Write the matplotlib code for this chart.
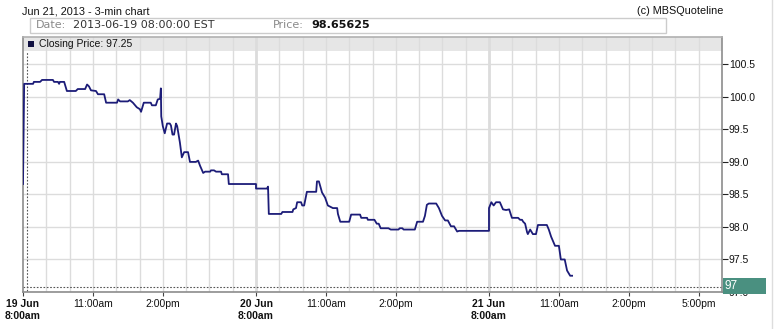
import matplotlib.pyplot as plt
from matplotlib.patches import Rectangle
from matplotlib.lines import Line2D

# 3-min closing prices (date, time, price)
days = ["06-19", "06-20", "06-21"]
stamps = [
    "06-19 08:00", "06-19 08:03", "06-19 08:26", "06-19 08:28", "06-19 08:44", "06-19 08:49",
    "06-19 09:17", "06-19 09:20", "06-19 09:30", "06-19 09:33", "06-19 09:35", "06-19 09:46",
    "06-19 09:53", "06-19 10:16", "06-19 10:21", "06-19 10:40", "06-19 10:45", "06-19 10:50",
    "06-19 10:55", "06-19 11:08", "06-19 11:13", "06-19 11:29", "06-19 11:34", "06-19 12:02",
    "06-19 12:05", "06-19 12:10", "06-19 12:30", "06-19 12:35", "06-19 12:43", "06-19 12:53",
    "06-19 13:01", "06-19 13:04", "06-19 13:11", "06-19 13:29", "06-19 13:32", "06-19 13:42",
    "06-19 13:47", "06-19 13:53", "06-19 13:55", "06-19 13:56", "06-19 14:00", "06-19 14:05",
    "06-19 14:11", "06-19 14:18", "06-19 14:21", "06-19 14:25", "06-19 14:29", "06-19 14:34",
    "06-19 14:37", "06-19 14:44", "06-19 14:49", "06-19 14:55", "06-19 15:05", "06-19 15:10",
    "06-19 15:25", "06-19 15:31", "06-19 15:36", "06-19 15:44", "06-19 15:49", "06-19 16:02",
    "06-19 16:04", "06-19 16:12", "06-19 16:17", "06-19 16:30", "06-19 16:32", "06-19 16:48",
    "06-19 16:50", "06-19 18:00",
    "06-20 08:00", "06-20 08:28", "06-20 08:31", "06-20 08:33", "06-20 09:05", "06-20 09:08",
    "06-20 09:34", "06-20 09:36", "06-20 09:43", "06-20 09:46", "06-20 09:56", "06-20 09:59",
    "06-20 10:04", "06-20 10:11", "06-20 10:35", "06-20 10:37", "06-20 10:42", "06-20 10:50",
    "06-20 10:58", "06-20 11:05", "06-20 11:18", "06-20 11:29", "06-20 11:31", "06-20 11:37",
    "06-20 12:00", "06-20 12:05", "06-20 12:28", "06-20 12:31", "06-20 12:46", "06-20 12:48",
    "06-20 13:05", "06-20 13:11", "06-20 13:16", "06-20 13:21", "06-20 13:41", "06-20 13:47",
    "06-20 14:07", "06-20 14:10", "06-20 14:17", "06-20 14:20", "06-20 14:49", "06-20 14:55",
    "06-20 15:10", "06-20 15:15", "06-20 15:20", "06-20 15:25", "06-20 15:44", "06-20 15:51",
    "06-20 15:59", "06-20 16:07", "06-20 16:14", "06-20 16:22", "06-20 16:30", "06-20 16:38",
    "06-20 16:43", "06-20 16:46", "06-20 18:00",
    "06-21 08:00", "06-21 08:06", "06-21 08:12", "06-21 08:18", "06-21 08:28", "06-21 08:36",
    "06-21 08:44", "06-21 08:52", "06-21 08:59", "06-21 09:15", "06-21 09:20", "06-21 09:25",
    "06-21 09:28", "06-21 09:33", "06-21 09:38", "06-21 09:40", "06-21 09:46", "06-21 09:53",
    "06-21 10:01", "06-21 10:06", "06-21 10:29", "06-21 10:34", "06-21 10:40", "06-21 10:50",
    "06-21 11:00", "06-21 11:05", "06-21 11:15", "06-21 11:21", "06-21 11:29", "06-21 11:34",
]
prices = [
    98.66, 100.20, 100.20, 100.23, 100.23, 100.26,
    100.26, 100.23, 100.23, 100.20, 100.23, 100.23,
    100.09, 100.09, 100.12, 100.12, 100.19, 100.16,
    100.10, 100.09, 100.04, 100.04, 99.91, 99.91,
    99.96, 99.93, 99.93, 99.95, 99.91, 99.84,
    99.81, 99.77, 99.91, 99.91, 99.87, 99.87,
    99.96, 99.97, 100.13, 99.70, 99.55, 99.44,
    99.59, 99.59, 99.56, 99.42, 99.42, 99.59,
    99.55, 99.30, 99.07, 99.15, 99.15, 99.00,
    99.00, 99.02, 98.94, 98.83, 98.85, 98.85,
    98.87, 98.87, 98.85, 98.85, 98.81, 98.81,
    98.66, 98.66,
    98.59, 98.59, 98.62, 98.20, 98.20, 98.23,
    98.23, 98.27, 98.29, 98.38, 98.38, 98.33,
    98.33, 98.54, 98.54, 98.70, 98.70, 98.53,
    98.45, 98.33, 98.29, 98.29, 98.20, 98.08,
    98.08, 98.19, 98.19, 98.14, 98.14, 98.11,
    98.11, 98.05, 98.05, 97.98, 97.98, 97.96,
    97.96, 97.98, 97.98, 97.96, 97.96, 98.08,
    98.08, 98.17, 98.34, 98.36, 98.36, 98.29,
    98.17, 98.10, 98.10, 98.01, 98.01, 97.93,
    97.94, 97.94, 97.94,
    98.29, 98.38, 98.33, 98.38, 98.38, 98.27,
    98.26, 98.27, 98.14, 98.14, 98.11, 98.11,
    98.08, 98.05, 97.92, 97.89, 97.96, 97.89,
    97.89, 98.03, 98.03, 97.96, 97.85, 97.71,
    97.71, 97.50, 97.50, 97.33, 97.25, 97.25,
]

tick_stamps = ["06-19 08:00", "06-19 11:00", "06-19 14:00",
               "06-20 08:00", "06-20 11:00", "06-20 14:00",
               "06-21 08:00", "06-21 11:00", "06-21 14:00", "06-21 17:00"]
tick_labels = ["19 Jun\n8:00am", "11:00am", "2:00pm",
               "20 Jun\n8:00am", "11:00am", "2:00pm",
               "21 Jun\n8:00am", "11:00am", "2:00pm", "5:00pm"]
y_ticks = [97.0, 97.5, 98.0, 98.5, 99.0, 99.5, 100.0, 100.5]

SESSION_HOURS = 10  # 8:00am - 6:00pm, gaps between sessions removed


def session_pos(stamp):
    d, hm = stamp.split()
    hh, mm = hm.split(":")
    return days.index(d) * SESSION_HOURS + int(hh) + int(mm) / 60 - 8


xs = [session_pos(s) for s in stamps]

plt.rcParams['font.family'] = ['Liberation Sans', 'DejaVu Sans']

fig = plt.figure(figsize=(7.74, 3.29), dpi=100)
fig.patch.set_facecolor('white')
ax = fig.add_axes([23 / 774, 37 / 329, 699 / 774, 255 / 329])

ax.set_xlim(0, 3 * SESSION_HOURS)
ax.set_ylim(97.02, 100.92)

# grid: hourly verticals, heavier at session boundaries
for h in range(1, 3 * SESSION_HOURS):
    w = 2.0 if h % SESSION_HOURS == 0 else 1.0
    ax.axvline(h, color='#dcdcdc', lw=w, zorder=1)
for v in y_ticks:
    ax.axhline(v, color='#dcdcdc', lw=1.0, zorder=1)

# header band with legend
ax.add_patch(Rectangle((0, 1 - 14 / 255), 1, 14 / 255, transform=ax.transAxes,
                       facecolor='#e6e6e6', edgecolor='none', zorder=0))
ax.add_patch(Rectangle((5 / 699, 1 - 10 / 255), 6 / 699, 6 / 255, transform=ax.transAxes,
                       facecolor='#101040', edgecolor='none', zorder=5))
ax.text(16 / 699, 1 - 7 / 255, "Closing Price: 97.25", transform=ax.transAxes,
        fontsize=7.5, va='center', ha='left', color='#111111', zorder=5)

# crosshair at first bar
ax.plot([0.17, 0.17], [97.02, 100.71], ls=(0, (1.5, 1.5)), color='#555555', lw=0.8, zorder=2)
ax.axhline(97.08, ls=(0, (1.5, 1.5)), color='#555555', lw=0.8, zorder=2)

ax.plot(xs, prices, color='#1c1c78', lw=1.3, zorder=3)

for side in ['left', 'right', 'bottom', 'top']:
    ax.spines[side].set_color('#8c8c8c')
    ax.spines[side].set_linewidth(1.2)
ax.spines['top'].set_color('#b0b0b0')

ax.yaxis.tick_right()
ax.set_yticks(y_ticks)
ax.set_yticklabels([f"{v:.1f}" for v in y_ticks])
ax.tick_params(axis='y', length=4, width=0.8, color='#222222', labelsize=7.5, pad=1,
               labelcolor='#111111')

ax.set_xticks([session_pos(s) for s in tick_stamps])
ax.set_xticklabels(tick_labels)
ax.tick_params(axis='x', length=3, width=0.8, color='#444444', labelsize=7.5, pad=2,
               labelcolor='#111111')
for lbl in ax.get_xticklabels():
    if "Jun" in lbl.get_text():
        lbl.set_fontweight('bold')

# last value box on the price axis (covers most of the 97.0 label, as in the original)
ytr = ax.get_yaxis_transform()
ax.add_patch(Rectangle((1.0015, 96.975), 0.0615, 0.245, transform=ytr,
                       facecolor='#4a9080', edgecolor='none', clip_on=False, zorder=6))
ax.text(1.004, 97.095, "97", transform=ytr, fontsize=8.5, color='white',
        va='center', ha='left', zorder=7, clip_on=False)

# titles and info box
fig.text(22 / 774, 1 - 11 / 329, "Jun 21, 2013 - 3-min chart", fontsize=7.8,
         va='center', ha='left', color='#111111')
fig.text(723 / 774, 1 - 11 / 329, "(c) MBSQuoteline", fontsize=7.8,
         va='center', ha='right', color='#111111')
fig.patches.append(Rectangle((30 / 774, 1 - 33 / 329), 636 / 774, 15 / 329,
                             transform=fig.transFigure, facecolor='white',
                             edgecolor='#cccccc', lw=1.0))
fig.text(36 / 774, 1 - 25.5 / 329, "Date:", fontsize=8, va='center', ha='left',
         color='#8a8a8a', family='DejaVu Sans')
fig.text(73 / 774, 1 - 25.5 / 329, "2013-06-19 08:00:00 EST", fontsize=8,
         va='center', ha='left', color='#333333', family='DejaVu Sans')
fig.text(273 / 774, 1 - 25.5 / 329, "Price:", fontsize=8, va='center', ha='left',
         color='#8a8a8a', family='DejaVu Sans')
fig.text(311 / 774, 1 - 25.5 / 329, "98.65625", fontsize=8, va='center', ha='left',
         color='#111111', fontweight='bold', family='DejaVu Sans')

fig.lines.append(Line2D([772 / 774, 772 / 774], [0, 1], transform=fig.transFigure,
                        color='#dddddd', lw=1.0))

fig.savefig('out.png', dpi=100)
